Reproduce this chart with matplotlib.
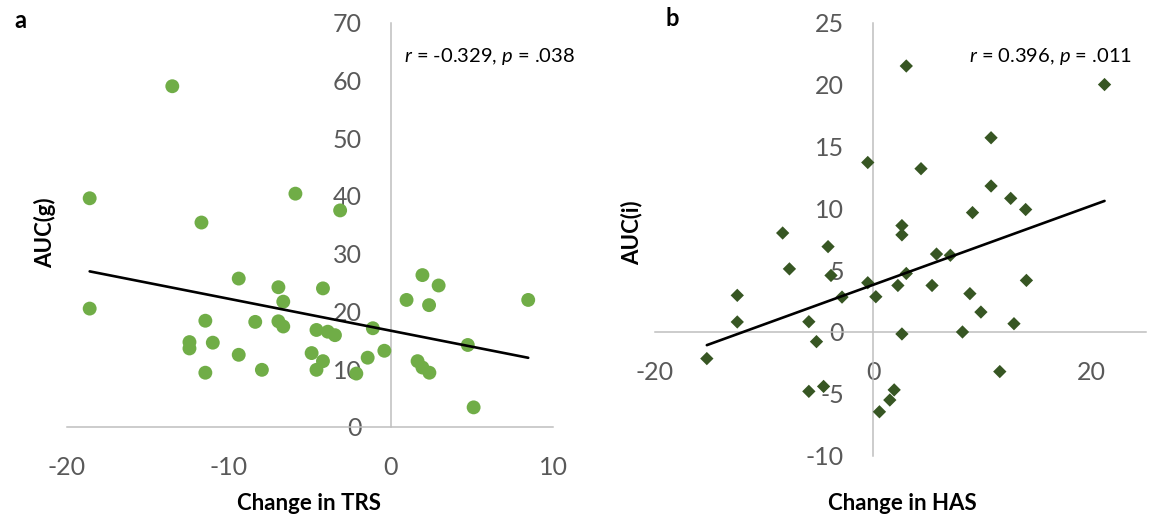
import numpy as np
import matplotlib
matplotlib.use("Agg")
import matplotlib.pyplot as plt

plt.rcParams['font.family'] = ['Lato', 'DejaVu Sans']
plt.rcParams['axes.unicode_minus'] = False
plt.rcParams['mathtext.fontset'] = 'custom'
plt.rcParams['mathtext.rm'] = 'Lato'
plt.rcParams['mathtext.it'] = 'Lato:italic'

# ---- Panel a data: Change in TRS vs AUC(g) ----
trs_change = [-18.6, -9.4, -6.95, -6.65, -4.2, 0.96, 1.94, 2.94, 2.35, 8.47,
              -11.46, -8.38, -6.95, -6.65, -4.6, -3.9, -3.46, -1.12, -12.44, -12.44,
              -11.0, -9.4, -4.9, -4.2, -4.6, -7.97, -11.46, -2.14, -1.44, -0.41,
              1.64, 1.94, 2.37, 4.74, 5.1, -13.5, -18.6, -11.7, -5.9, -3.14]
auc_g = [20.5, 25.7, 24.2, 21.7, 24.0, 22.0, 26.3, 24.5, 21.1, 22.0,
         18.4, 18.2, 18.3, 17.4, 16.8, 16.5, 15.9, 17.1, 14.7, 13.6,
         14.6, 12.5, 12.8, 11.4, 9.9, 9.9, 9.4, 9.25, 12.0, 13.2,
         11.4, 10.3, 9.4, 14.2, 3.4, 59.0, 39.6, 35.4, 40.4, 37.5]

# ---- Panel b data: Change in HAS vs AUC(i) ----
has_change = [3.03, 21.2, 10.8, -0.5, 4.38, 10.8, 12.6, 13.97, 9.1, 2.63,
              2.63, -8.3, -4.14, 5.8, 7.07, -7.68, -3.87, 3.03, -0.5, 14.04,
              2.26, 5.39, -12.46, -2.86, 0.24, 8.86, 9.87, -12.46, -5.9, 12.9,
              8.18, 2.63, -5.2, -15.25, 11.6, -5.9, -4.55, 1.92, 1.52, 0.57]
auc_i = [21.5, 20.0, 15.7, 13.7, 13.2, 11.8, 10.8, 9.9, 9.65, 8.6,
         7.85, 8.0, 6.9, 6.3, 6.2, 5.1, 4.57, 4.73, 3.98, 4.17,
         3.76, 3.76, 2.96, 2.82, 2.85, 3.1, 1.61, 0.81, 0.83, 0.67,
         0.0, -0.16, -0.78, -2.15, -3.2, -4.8, -4.4, -4.68, -5.5, -6.45]

a_xticks = [-20, -10, 0, 10]
a_yticks = [0, 10, 20, 30, 40, 50, 60, 70]
b_xticks = [-20, 0, 20]
b_yticks = [-10, -5, 0, 5, 10, 15, 20, 25]

W, H = 1153, 520
fig = plt.figure(figsize=(W / 100, H / 100), dpi=100)

def fx(px):
    return px / W

def fy(py):
    return 1 - py / H

axis_grey = '#BFBFBF'
label_grey = '#595959'

def style(ax):
    for s in ['top', 'right']:
        ax.spines[s].set_visible(False)
    ax.spines['left'].set_position(('data', 0))
    ax.spines['bottom'].set_position(('data', 0))
    for s in ['left', 'bottom']:
        ax.spines[s].set_color(axis_grey)
        ax.spines[s].set_linewidth(1.1)
    ax.tick_params(axis='both', length=0, pad=21, labelsize=18,
                   labelcolor=label_grey)
    ax.patch.set_visible(False)

# Panel a
ax1 = fig.add_axes([fx(67), fy(427), fx(553) - fx(67), fy(22.7) - fy(427)])
ax1.set_xlim(-20, 10)
ax1.set_ylim(0, 70)
style(ax1)
ax1.set_xticks(a_xticks)
ax1.set_yticks(a_yticks)
ax1.scatter(trs_change, auc_g, s=100, color='#70AD47', edgecolors='none',
            zorder=3, clip_on=False)
c1 = np.polyfit(trs_change, auc_g, 1)
xs1 = np.array([min(trs_change), max(trs_change)])
ax1.plot(xs1, np.polyval(c1, xs1), color='black', lw=1.9, zorder=4,
         solid_capstyle='round')

# Panel b
ax2 = fig.add_axes([fx(655), fy(455.7), fx(1146) - fx(655), fy(22.7) - fy(455.7)])
ax2.set_xlim(-20, 25)
ax2.set_ylim(-10, 25)
style(ax2)
ax2.set_xticks(b_xticks)
ax2.set_yticks(b_yticks)
ax2.scatter(has_change, auc_i, s=46, marker='D', color='#375623',
            edgecolors='none', zorder=3, clip_on=False)
c2 = np.polyfit(has_change, auc_i, 1)
xs2 = np.array([min(has_change), max(has_change)])
ax2.plot(xs2, np.polyval(c2, xs2), color='black', lw=1.9, zorder=4,
         solid_capstyle='round')

# Titles / labels
fig.text(fx(309), fy(504), 'Change in TRS', ha='center', va='center',
         fontsize=16, fontweight='bold', color='black')
fig.text(fx(902), fy(504), 'Change in HAS', ha='center', va='center',
         fontsize=16, fontweight='bold', color='black')
fig.text(fx(45), fy(233), 'AUC(g)', ha='center', va='center', rotation=90,
         fontsize=16, fontweight='bold', color='black')
fig.text(fx(632), fy(233), 'AUC(i)', ha='center', va='center', rotation=90,
         fontsize=16, fontweight='bold', color='black')
fig.text(fx(20), fy(20), 'a', ha='center', va='center', fontsize=17,
         fontweight='bold', color='black')
fig.text(fx(672), fy(19), 'b', ha='center', va='center', fontsize=17,
         fontweight='bold', color='black')
fig.text(fx(404), fy(56), r'$\it{r}$ = -0.329, $\it{p}$ = .038', ha='left',
         va='center', fontsize=14.5, color='black')
fig.text(fx(1132), fy(56), r'$\it{r}$ = 0.396, $\it{p}$ = .011', ha='right',
         va='center', fontsize=14.5, color='black')

fig.savefig('out.png', dpi=100)
